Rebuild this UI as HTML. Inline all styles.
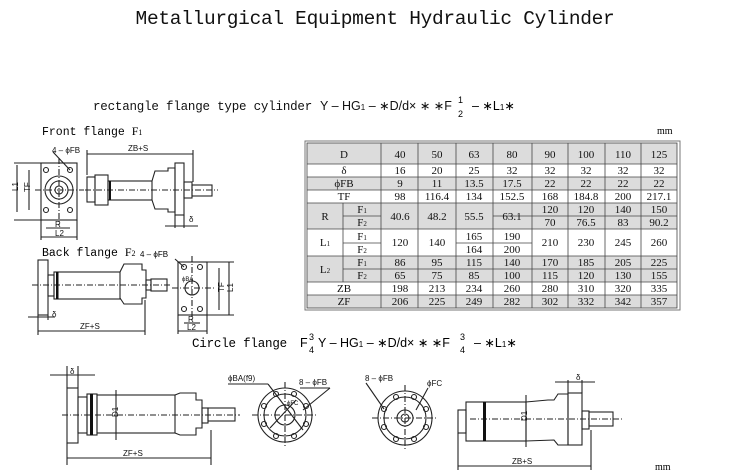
<!DOCTYPE html>
<html><head><meta charset="utf-8"><style>
html,body{margin:0;padding:0;background:#fff;}
svg{display:block}
.m{font-family:"Liberation Mono",monospace;}
.s{font-family:"Liberation Sans",sans-serif;}
.t{font-family:"Liberation Serif",serif;}
</style></head><body>
<svg width="750" height="475" viewBox="0 0 750 475" xmlns="http://www.w3.org/2000/svg">
<text x="375" y="24" class="m" font-size="19.5" text-anchor="middle" fill="#111" letter-spacing="-0.3">Metallurgical Equipment Hydraulic Cylinder</text>
<text x="93" y="110" class="m" font-size="12.5" fill="#111" letter-spacing="-0.2">rectangle flange type cylinder</text>
<text x="320" y="110" class="s" font-size="12.5" fill="#111">Y – HG<tspan font-size="8">1</tspan> – ∗D/d× ∗ ∗F</text>
<text x="458" y="103" class="s" font-size="9">1</text><text x="458" y="117" class="s" font-size="9">2</text>
<text x="472" y="110" class="s" font-size="12.5">– ∗L<tspan font-size="8">1</tspan>∗</text>
<text x="657" y="134" class="t" font-size="10">mm</text>
<text x="655" y="470" class="t" font-size="10">mm</text>

<!-- table -->
<g class="t" font-size="11" fill="#111" text-anchor="middle">
<rect x="305" y="141" width="375" height="169" fill="#fff" stroke="#777" stroke-width="1"/>
<g fill="#dcdcdc">
<rect x="307" y="143" width="370" height="21"/>
<rect x="307" y="177" width="370" height="13"/>
<rect x="307" y="203" width="370" height="26"/>
<rect x="307" y="256" width="370" height="26"/>
<rect x="307" y="295" width="370" height="13"/>
</g>
<g stroke="#444" stroke-width="0.8" fill="none">
<rect x="307" y="143" width="370" height="165"/>
<line x1="307" y1="164" x2="677" y2="164"/><line x1="307" y1="177" x2="677" y2="177"/>
<line x1="307" y1="190" x2="677" y2="190"/><line x1="307" y1="203" x2="677" y2="203"/>
<line x1="343" y1="216" x2="381" y2="216"/><line x1="493" y1="216" x2="677" y2="216"/>
<line x1="307" y1="229" x2="677" y2="229"/>
<line x1="343" y1="243" x2="381" y2="243"/><line x1="456" y1="243" x2="532" y2="243"/>
<line x1="307" y1="256" x2="677" y2="256"/>
<line x1="343" y1="269" x2="677" y2="269"/>
<line x1="307" y1="282" x2="677" y2="282"/><line x1="307" y1="295" x2="677" y2="295"/>
<line x1="343" y1="203" x2="343" y2="282"/>
<line x1="381" y1="143" x2="381" y2="308"/><line x1="418" y1="143" x2="418" y2="308"/>
<line x1="456" y1="143" x2="456" y2="308"/><line x1="493" y1="143" x2="493" y2="308"/>
<line x1="532" y1="143" x2="532" y2="308"/><line x1="568" y1="143" x2="568" y2="308"/>
<line x1="605" y1="143" x2="605" y2="308"/><line x1="641" y1="143" x2="641" y2="308"/>
</g>
<text x="344" y="158">D</text>
<text x="400" y="158">40</text><text x="437" y="158">50</text><text x="474" y="158">63</text><text x="512" y="158">80</text><text x="550" y="158">90</text><text x="586" y="158">100</text><text x="623" y="158">110</text><text x="659" y="158">125</text>
<text x="344" y="174">δ</text>
<text x="400" y="174">16</text><text x="437" y="174">20</text><text x="474" y="174">25</text><text x="512" y="174">32</text><text x="550" y="174">32</text><text x="586" y="174">32</text><text x="623" y="174">32</text><text x="659" y="174">32</text>
<text x="344" y="187">ϕFB</text>
<text x="400" y="187">9</text><text x="437" y="187">11</text><text x="474" y="187">13.5</text><text x="512" y="187">17.5</text><text x="550" y="187">22</text><text x="586" y="187">22</text><text x="623" y="187">22</text><text x="659" y="187">22</text>
<text x="344" y="200">TF</text>
<text x="400" y="200">98</text><text x="437" y="200">116.4</text><text x="474" y="200">134</text><text x="512" y="200">152.5</text><text x="550" y="200">168</text><text x="586" y="200">184.8</text><text x="623" y="200">200</text><text x="659" y="200">217.1</text>
<text x="325" y="220">R</text><text x="362" y="213">F<tspan font-size="7">1</tspan></text><text x="362" y="226">F<tspan font-size="7">2</tspan></text>
<text x="400" y="220">40.6</text><text x="437" y="220">48.2</text><text x="474" y="220">55.5</text><text x="512" y="220">63.1</text>
<text x="550" y="213">120</text><text x="586" y="213">120</text><text x="623" y="213">140</text><text x="659" y="213">150</text>
<text x="550" y="226">70</text><text x="586" y="226">76.5</text><text x="623" y="226">83</text><text x="659" y="226">90.2</text>
<text x="325" y="246">L<tspan font-size="7">1</tspan></text><text x="362" y="240">F<tspan font-size="7">1</tspan></text><text x="362" y="253">F<tspan font-size="7">2</tspan></text>
<text x="400" y="246">120</text><text x="437" y="246">140</text><text x="474" y="240">165</text><text x="512" y="240">190</text><text x="474" y="253">164</text><text x="512" y="253">200</text>
<text x="550" y="246">210</text><text x="586" y="246">230</text><text x="623" y="246">245</text><text x="659" y="246">260</text>
<text x="325" y="273">L<tspan font-size="7">2</tspan></text><text x="362" y="266">F<tspan font-size="7">1</tspan></text><text x="362" y="279">F<tspan font-size="7">2</tspan></text>
<text x="400" y="266">86</text><text x="437" y="266">95</text><text x="474" y="266">115</text><text x="512" y="266">140</text><text x="550" y="266">170</text><text x="586" y="266">185</text><text x="623" y="266">205</text><text x="659" y="266">225</text>
<text x="400" y="279">65</text><text x="437" y="279">75</text><text x="474" y="279">85</text><text x="512" y="279">100</text><text x="550" y="279">115</text><text x="586" y="279">120</text><text x="623" y="279">130</text><text x="659" y="279">155</text>
<text x="344" y="292">ZB</text>
<text x="400" y="292">198</text><text x="437" y="292">213</text><text x="474" y="292">234</text><text x="512" y="292">260</text><text x="550" y="292">280</text><text x="586" y="292">310</text><text x="623" y="292">320</text><text x="659" y="292">335</text>
<text x="344" y="305">ZF</text>
<text x="400" y="305">206</text><text x="437" y="305">225</text><text x="474" y="305">249</text><text x="512" y="305">282</text><text x="550" y="305">302</text><text x="586" y="305">332</text><text x="623" y="305">342</text><text x="659" y="305">357</text>
</g>

<!-- Front flange -->
<text x="42" y="135" class="m" font-size="11.5">Front flange <tspan class="t" font-size="12">F<tspan font-size="8">1</tspan></tspan></text>
<g stroke="#222" stroke-width="1.1" fill="none">
<rect x="41" y="163" width="36" height="57"/>
<circle cx="59" cy="190" r="14"/><circle cx="59" cy="190" r="9"/><circle cx="59" cy="190" r="4"/>
<circle cx="46" cy="170" r="2.5"/><circle cx="70" cy="170" r="2.5"/><circle cx="46" cy="210" r="2.5"/><circle cx="70" cy="210" r="2.5"/>
<line x1="35" y1="190" x2="84" y2="190" stroke-dasharray="6,2,1,2"/>
<line x1="59" y1="158" x2="59" y2="225" stroke-dasharray="6,2,1,2"/>
<line x1="17" y1="165" x2="17" y2="212"/><line x1="29" y1="170" x2="29" y2="210"/>
<line x1="14" y1="163" x2="41" y2="163"/><line x1="14" y1="220" x2="41" y2="220"/>
<line x1="46" y1="228" x2="70" y2="228"/><line x1="41" y1="237" x2="77" y2="237"/>
<line x1="41" y1="220" x2="41" y2="240"/><line x1="77" y1="220" x2="77" y2="240"/>
<line x1="53" y1="152" x2="70" y2="170"/>
<rect x="87" y="177" width="8" height="25"/><rect x="95" y="175" width="13" height="30"/>
<rect x="108" y="181" width="44" height="19"/>
<path d="M152 181 L155 171 H168 V168 H175 V212 H168 V209 H155 L152 200"/>
<rect x="175" y="163" width="9" height="52"/>
<rect x="184" y="182" width="8" height="16"/><rect x="192" y="185" width="20" height="11"/>
<line x1="85" y1="190" x2="218" y2="190" stroke-dasharray="6,2,1,2"/>
<line x1="87" y1="150" x2="87" y2="175"/><line x1="193" y1="150" x2="193" y2="182"/>
<line x1="87" y1="154" x2="193" y2="154"/>
<line x1="175" y1="215" x2="175" y2="228"/><line x1="184" y1="215" x2="184" y2="228"/>
<line x1="165" y1="226" x2="198" y2="226"/>
</g>
<rect x="109" y="181" width="2" height="19" fill="#111"/>
<g class="s" font-size="8" fill="#111">
<text x="52" y="153">4 – ϕFB</text><text x="128" y="151">ZB+S</text>
<text x="14" y="195" transform="rotate(-90 14 191)">L1</text><text x="25" y="195" transform="rotate(-90 26 191)">TF</text>
<text x="55" y="227">R</text><text x="55" y="236">L2</text><text x="189" y="222">δ</text>
</g>

<!-- Back flange -->
<text x="42" y="256" class="m" font-size="11.5">Back flange <tspan class="t" font-size="12">F<tspan font-size="8">2</tspan></tspan></text>
<text x="140" y="257" class="s" font-size="8">4 – ϕFB</text>
<g stroke="#222" stroke-width="1.1" fill="none">
<rect x="38" y="260" width="10" height="55"/>
<rect x="48" y="275" width="6" height="21"/>
<rect x="54" y="272" width="66" height="27"/>
<path d="M120 272 L124 264 H142 V270 H146 V298 H142 V304 H124 L120 298"/>
<rect x="146" y="280" width="5" height="10"/><rect x="151" y="279" width="16" height="12"/>
<line x1="32" y1="285" x2="170" y2="285" stroke-dasharray="6,2,1,2"/>
<line x1="38" y1="315" x2="38" y2="335"/><line x1="48" y1="315" x2="48" y2="320"/>
<line x1="28" y1="317" x2="55" y2="317"/>
<line x1="38" y1="331" x2="145" y2="331"/><line x1="145" y1="300" x2="145" y2="335"/>
<rect x="178" y="262" width="29" height="53"/>
<circle cx="192" cy="288" r="7"/>
<circle cx="184" cy="267" r="2.5"/><circle cx="200" cy="267" r="2.5"/><circle cx="184" cy="309" r="2.5"/><circle cx="200" cy="309" r="2.5"/>
<line x1="172" y1="288" x2="214" y2="288" stroke-dasharray="6,2,1,2"/>
<line x1="192" y1="256" x2="192" y2="322" stroke-dasharray="6,2,1,2"/>
<line x1="175" y1="259" x2="184" y2="267"/>
<line x1="207" y1="262" x2="234" y2="262"/><line x1="207" y1="315" x2="234" y2="315"/>
<line x1="229" y1="262" x2="229" y2="315"/><line x1="219" y1="268" x2="219" y2="310"/>
<line x1="184" y1="323" x2="200" y2="323"/><line x1="178" y1="331" x2="207" y2="331"/>
<line x1="178" y1="315" x2="178" y2="334"/><line x1="207" y1="315" x2="207" y2="334"/>
</g>
<rect x="56" y="272" width="2.5" height="27" fill="#111"/>
<g class="s" font-size="8" fill="#111">
<text x="52" y="317">δ</text><text x="80" y="329">ZF+S</text>
<text x="182" y="281" font-size="6">ϕBA</text>
<text x="188" y="322">R</text><text x="187" y="330">L2</text>
<text x="218" y="294" transform="rotate(-90 220 290)">TF</text><text x="228" y="293" transform="rotate(-90 230 290)">L1</text>
</g>

<!-- Circle flange -->
<text x="192" y="347" class="m" font-size="12.5" letter-spacing="-0.2">Circle flange</text>
<text x="300" y="347" class="s" font-size="12.5">F</text><text x="309" y="340" class="s" font-size="9">3</text><text x="309" y="353" class="s" font-size="9">4</text>
<text x="318" y="347" class="s" font-size="12.5">Y – HG<tspan font-size="8">1</tspan> – ∗D/d× ∗ ∗F</text>
<text x="460" y="340" class="s" font-size="9">3</text><text x="460" y="353" class="s" font-size="9">4</text>
<text x="474" y="347" class="s" font-size="12.5">– ∗L<tspan font-size="8">1</tspan>∗</text>

<g stroke="#222" stroke-width="1.1" fill="none">
<rect x="67" y="388" width="11" height="55"/>
<rect x="78" y="397" width="9" height="36"/><rect x="87" y="394" width="10" height="41"/>
<rect x="97" y="395" width="78" height="38"/>
<path d="M175 395 L180 393 H196 V400 H202 V428 H196 V435 H180 L175 433"/>
<rect x="202" y="408" width="6" height="15"/><rect x="208" y="408" width="27" height="13"/>
<line x1="62" y1="415" x2="240" y2="415" stroke-dasharray="6,2,1,2"/>
<line x1="67" y1="366" x2="67" y2="388"/><line x1="78" y1="366" x2="78" y2="388"/>
<line x1="50" y1="375" x2="95" y2="375"/>
<line x1="116" y1="390" x2="116" y2="440"/>
<line x1="67" y1="443" x2="67" y2="465"/><line x1="211" y1="430" x2="211" y2="465"/>
<line x1="67" y1="458" x2="211" y2="458"/>
<circle cx="285" cy="415" r="27"/><circle cx="285" cy="415" r="21"/><circle cx="285" cy="415" r="10"/>
<g><circle cx="276" cy="394" r="2.5"/><circle cx="294" cy="394" r="2.5"/><circle cx="306" cy="406" r="2.5"/><circle cx="306" cy="424" r="2.5"/><circle cx="294" cy="436" r="2.5"/><circle cx="276" cy="436" r="2.5"/><circle cx="264" cy="424" r="2.5"/><circle cx="264" cy="406" r="2.5"/></g>
<line x1="252" y1="415" x2="318" y2="415" stroke-dasharray="6,2,1,2"/>
<line x1="285" y1="382" x2="285" y2="448" stroke-dasharray="6,2,1,2"/>
<line x1="228" y1="384" x2="268" y2="384"/><line x1="268" y1="384" x2="303" y2="430"/>
<line x1="330" y1="388" x2="303" y2="410"/><line x1="300" y1="388" x2="330" y2="388"/>
<line x1="270" y1="428" x2="296" y2="400"/>
<circle cx="405" cy="418" r="27"/><circle cx="405" cy="418" r="21"/><circle cx="405" cy="418" r="8"/><circle cx="405" cy="418" r="4"/>
<g><circle cx="396" cy="397" r="2.5"/><circle cx="414" cy="397" r="2.5"/><circle cx="426" cy="409" r="2.5"/><circle cx="426" cy="427" r="2.5"/><circle cx="414" cy="439" r="2.5"/><circle cx="396" cy="439" r="2.5"/><circle cx="384" cy="427" r="2.5"/><circle cx="384" cy="409" r="2.5"/></g>
<line x1="372" y1="418" x2="438" y2="418" stroke-dasharray="6,2,1,2"/>
<line x1="405" y1="385" x2="405" y2="451" stroke-dasharray="6,2,1,2"/>
<line x1="366" y1="383" x2="384" y2="409"/><line x1="428" y1="388" x2="416" y2="410"/>
<rect x="458" y="410" width="8" height="23"/>
<rect x="466" y="402" width="60" height="39"/>
<path d="M526 402 L548 400 H554 L558 394 H568 V445 H558 L554 440 L526 441"/>
<rect x="568" y="393" width="14" height="52"/>
<rect x="582" y="411" width="7" height="18"/><rect x="589" y="412" width="24" height="14"/>
<line x1="470" y1="419" x2="622" y2="419" stroke-dasharray="6,2,1,2"/>
<line x1="526" y1="395" x2="526" y2="447"/>
<line x1="568" y1="380" x2="568" y2="393"/><line x1="582" y1="380" x2="582" y2="393"/>
<line x1="555" y1="382" x2="595" y2="382"/>
<line x1="458" y1="433" x2="458" y2="470"/><line x1="591" y1="430" x2="591" y2="470"/>
<line x1="458" y1="466" x2="591" y2="466"/>
</g>
<rect x="90" y="394" width="3" height="41" fill="#111"/>
<rect x="483" y="402" width="3" height="39" fill="#111"/>
<g class="s" font-size="8" fill="#111">
<text x="70" y="374">δ</text><text x="123" y="456">ZF+S</text>
<text x="112" y="419" transform="rotate(-90 114 415)">D1</text>
<text x="228" y="381">ϕBA(f9)</text><text x="299" y="385">8 – ϕFB</text><text x="287" y="405" font-size="6">ϕFC</text>
<text x="365" y="381">8 – ϕFB</text><text x="427" y="386">ϕFC</text>
<text x="576" y="380">δ</text><text x="512" y="464">ZB+S</text>
<text x="522" y="422" transform="rotate(-90 524 419)">D1</text>
</g>
</svg>
</body></html>
